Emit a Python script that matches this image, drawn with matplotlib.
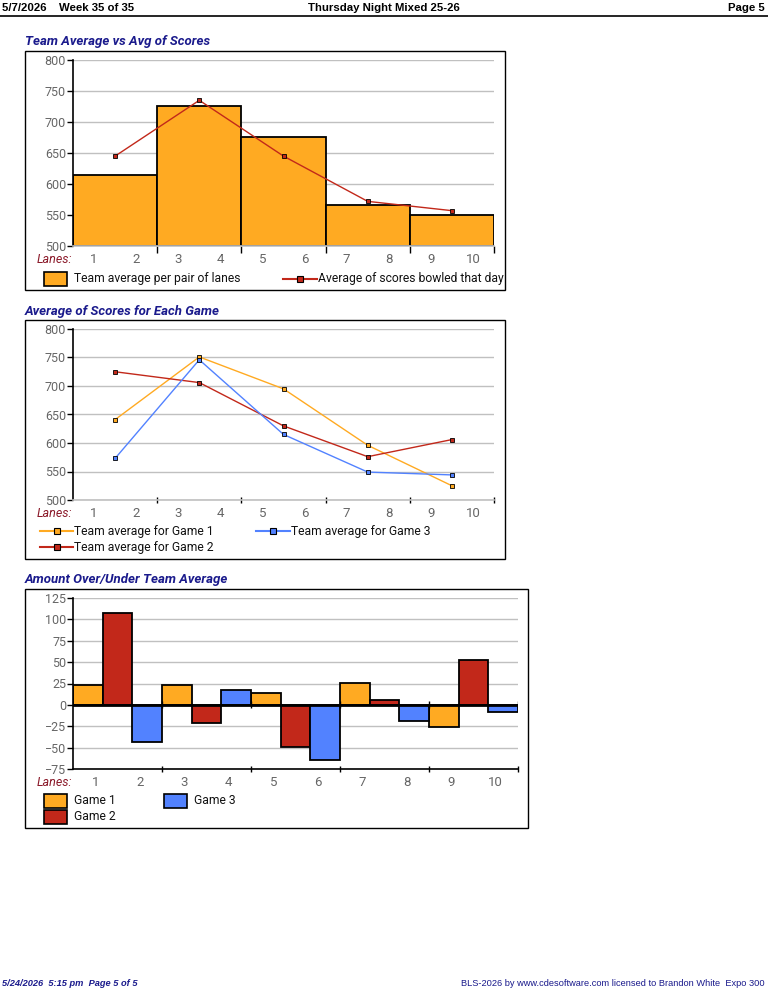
import matplotlib
matplotlib.use('Agg')
import matplotlib.pyplot as plt
from matplotlib.patches import Rectangle
from matplotlib.lines import Line2D
from matplotlib import font_manager

W, H = 768, 991

lanes = [str(i) for i in range(1, 11)]
group_pos = [1, 3, 5, 7, 9]

team_avg = [615, 726, 676, 566, 550]
day_avg = [645, 735, 645, 572, 557]

game1 = [641, 751, 695, 596, 525]
game2 = [725, 706, 630, 576, 606]
game3 = [573, 746, 615, 549, 544]

diff1 = [23, 23, 14, 26, -26]
diff2 = [108, -21, -49, 6, 53]
diff3 = [-44, 17, -64, -19, -8]

ORANGE = '#FFAA22'
RED = '#C2281A'
BLUE = '#5282FF'
NAVY = '#1A1A8C'
LANES_RED = '#8B1A2A'
TICK_GRAY = '#666666'
GRID = '#C0C0C0'

FONT = ['Roboto', 'DejaVu Sans']

# condensed font for header / footer if there is one
names = set(f.name for f in font_manager.fontManager.ttflist)
if 'Liberation Sans Narrow' in names:
    NARROW = ['Liberation Sans Narrow', 'DejaVu Sans']
    HSIZE, FSIZE = 10, 7.5
else:
    NARROW = ['Liberation Sans', 'DejaVu Sans']
    HSIZE, FSIZE = 8.2, 6.7

plt.rcParams['font.family'] = FONT

fig = plt.figure(figsize=(W / 100, H / 100), dpi=100)


def fx(x):
    return x / W


def fy(y):
    return 1 - y / H


def add_axes(x0, y0, x1, y1):
    return fig.add_axes([fx(x0), fy(y1), fx(x1 - x0), (y1 - y0) / H])


def frame(x0, y0, x1, y1):
    fig.add_artist(Rectangle((fx(x0), fy(y1)), fx(x1 - x0), (y1 - y0) / H,
                             transform=fig.transFigure, fill=False,
                             edgecolor='black', lw=1.0))


def title(x, y, s):
    fig.text(fx(x), fy(y), s, fontsize=9.5, fontweight='bold', style='italic',
             color=NAVY, va='center', ha='left')


def box_legend(x, y, color, label):
    fig.add_artist(Rectangle((fx(x), fy(y + 7)), fx(23), 14 / H,
                             transform=fig.transFigure, facecolor=color,
                             edgecolor='black', lw=1.2))
    fig.text(fx(x + 30), fy(y), label, fontsize=8.7, color='#111111',
             va='center', ha='left')


def line_legend(x0, x1, y, color, label):
    fig.add_artist(Line2D([fx(x0), fx(x1)], [fy(y), fy(y)],
                          transform=fig.transFigure, color=color, lw=1.5))
    fig.add_artist(Line2D([fx((x0 + x1) / 2)], [fy(y)],
                          transform=fig.transFigure, marker='s', ms=5,
                          mfc=color, mec='black', mew=0.8))
    fig.text(fx(x1 + 1), fy(y), label, fontsize=8.7, color='#111111',
             va='center', ha='left')


def style_axes(ax, ymin, ymax, step, bottom_color, tick_dir):
    ax.set_xlim(0, 10)
    ax.set_ylim(ymin, ymax)
    ax.set_yticks(range(ymin, ymax + 1, step))
    ax.yaxis.grid(True, color=GRID, lw=1.0)
    ax.set_axisbelow(True)
    for s in ['top', 'right']:
        ax.spines[s].set_visible(False)
    ax.spines['left'].set_color('black')
    ax.spines['left'].set_linewidth(1.2)
    ax.spines['bottom'].set_color(bottom_color)
    ax.spines['bottom'].set_linewidth(1.2)
    ax.tick_params(axis='y', direction='out', length=4, width=1,
                   color='black', labelsize=9, labelcolor=TICK_GRAY, pad=1)
    ax.set_xticks([2, 4, 6, 8, 10])
    ax.set_xticklabels([])
    ax.tick_params(axis='x', which='major', direction=tick_dir, length=5,
                   width=1, color='black')
    ax.set_xticks([i + 0.5 for i in range(10)], minor=True)
    ax.set_xticklabels(lanes, minor=True)
    ax.tick_params(axis='x', which='minor', length=0, labelsize=9.5,
                   labelcolor=TICK_GRAY, pad=5)
    ax.annotate('Lanes:', xy=(0, 0), xycoords='axes fraction',
                xytext=(-1, -13.5), textcoords='offset pixels', ha='right',
                va='center', style='italic', fontsize=9, color=LANES_RED)


# header
fig.text(fx(2), fy(8), '5/7/2026    Week 35 of 35', family=NARROW,
         fontsize=HSIZE, fontweight='bold', va='center', ha='left')
fig.text(fx(384), fy(8), 'Thursday Night Mixed 25-26', family=NARROW,
         fontsize=HSIZE, fontweight='bold', va='center', ha='center')
fig.text(fx(765), fy(8), 'Page 5', family=NARROW,
         fontsize=HSIZE, fontweight='bold', va='center', ha='right')
fig.add_artist(Line2D([0, 1], [fy(15.5), fy(15.5)], transform=fig.transFigure,
                      color='black', lw=1.2))

# chart 1
title(25, 42, 'Team Average vs Avg of Scores')
frame(25, 51, 505, 290)
ax1 = add_axes(73, 60, 494, 246)
ax1.bar([g - 1 for g in group_pos], [v - 500 for v in team_avg], width=2,
        bottom=500, align='edge', color=ORANGE, edgecolor='black', lw=1.3)
ax1.plot(group_pos, day_avg, color=RED, lw=1.0, marker='s', ms=3.5,
         mfc=RED, mec='black', mew=0.6)
style_axes(ax1, 500, 800, 50, GRID, 'out')
box_legend(44, 279, ORANGE, 'Team average per pair of lanes')
line_legend(283, 317, 279, RED, 'Average of scores bowled that day')

# chart 2
title(25, 311, 'Average of Scores for Each Game')
frame(25, 320, 505, 559)
ax2 = add_axes(73, 329, 494, 500)
for vals, col in [(game1, ORANGE), (game2, RED), (game3, BLUE)]:
    ax2.plot(group_pos, vals, color=col, lw=1.0, marker='s', ms=3.5,
             mfc=col, mec='black', mew=0.6)
style_axes(ax2, 500, 800, 50, GRID, 'inout')
line_legend(40, 73, 531, ORANGE, 'Team average for Game 1')
line_legend(256, 290, 531, BLUE, 'Team average for Game 3')
line_legend(40, 73, 547, RED, 'Team average for Game 2')

# chart 3
title(25, 580, 'Amount Over/Under Team Average')
frame(25, 589, 528, 828)
ax3 = add_axes(73, 598, 518, 769)
bw = 2 / 3
for k, (vals, col) in enumerate([(diff1, ORANGE), (diff2, RED), (diff3, BLUE)]):
    ax3.bar([g - 1 + k * bw for g in group_pos], vals, width=bw,
            align='edge', color=col, edgecolor='black', lw=1.3)
style_axes(ax3, -75, 125, 25, 'black', 'inout')
ax3.axhline(0, color='black', lw=2)
ax3.vlines([2, 4, 6, 8, 10], -4, 4, color='black', lw=1)
box_legend(44, 801, ORANGE, 'Game 1')
box_legend(164, 801, BLUE, 'Game 3')
box_legend(44, 817, RED, 'Game 2')

# footer
fig.text(fx(2), fy(984), '5/24/2026  5:15 pm  Page 5 of 5', family=NARROW,
         fontsize=FSIZE, fontweight='bold', style='italic', color=NAVY,
         va='center', ha='left')
fig.text(fx(765), fy(984),
         'BLS-2026 by www.cdesoftware.com licensed to Brandon White  Expo 300',
         family=NARROW, fontsize=FSIZE, color=NAVY, va='center', ha='right')

fig.savefig('out.png', dpi=100)
